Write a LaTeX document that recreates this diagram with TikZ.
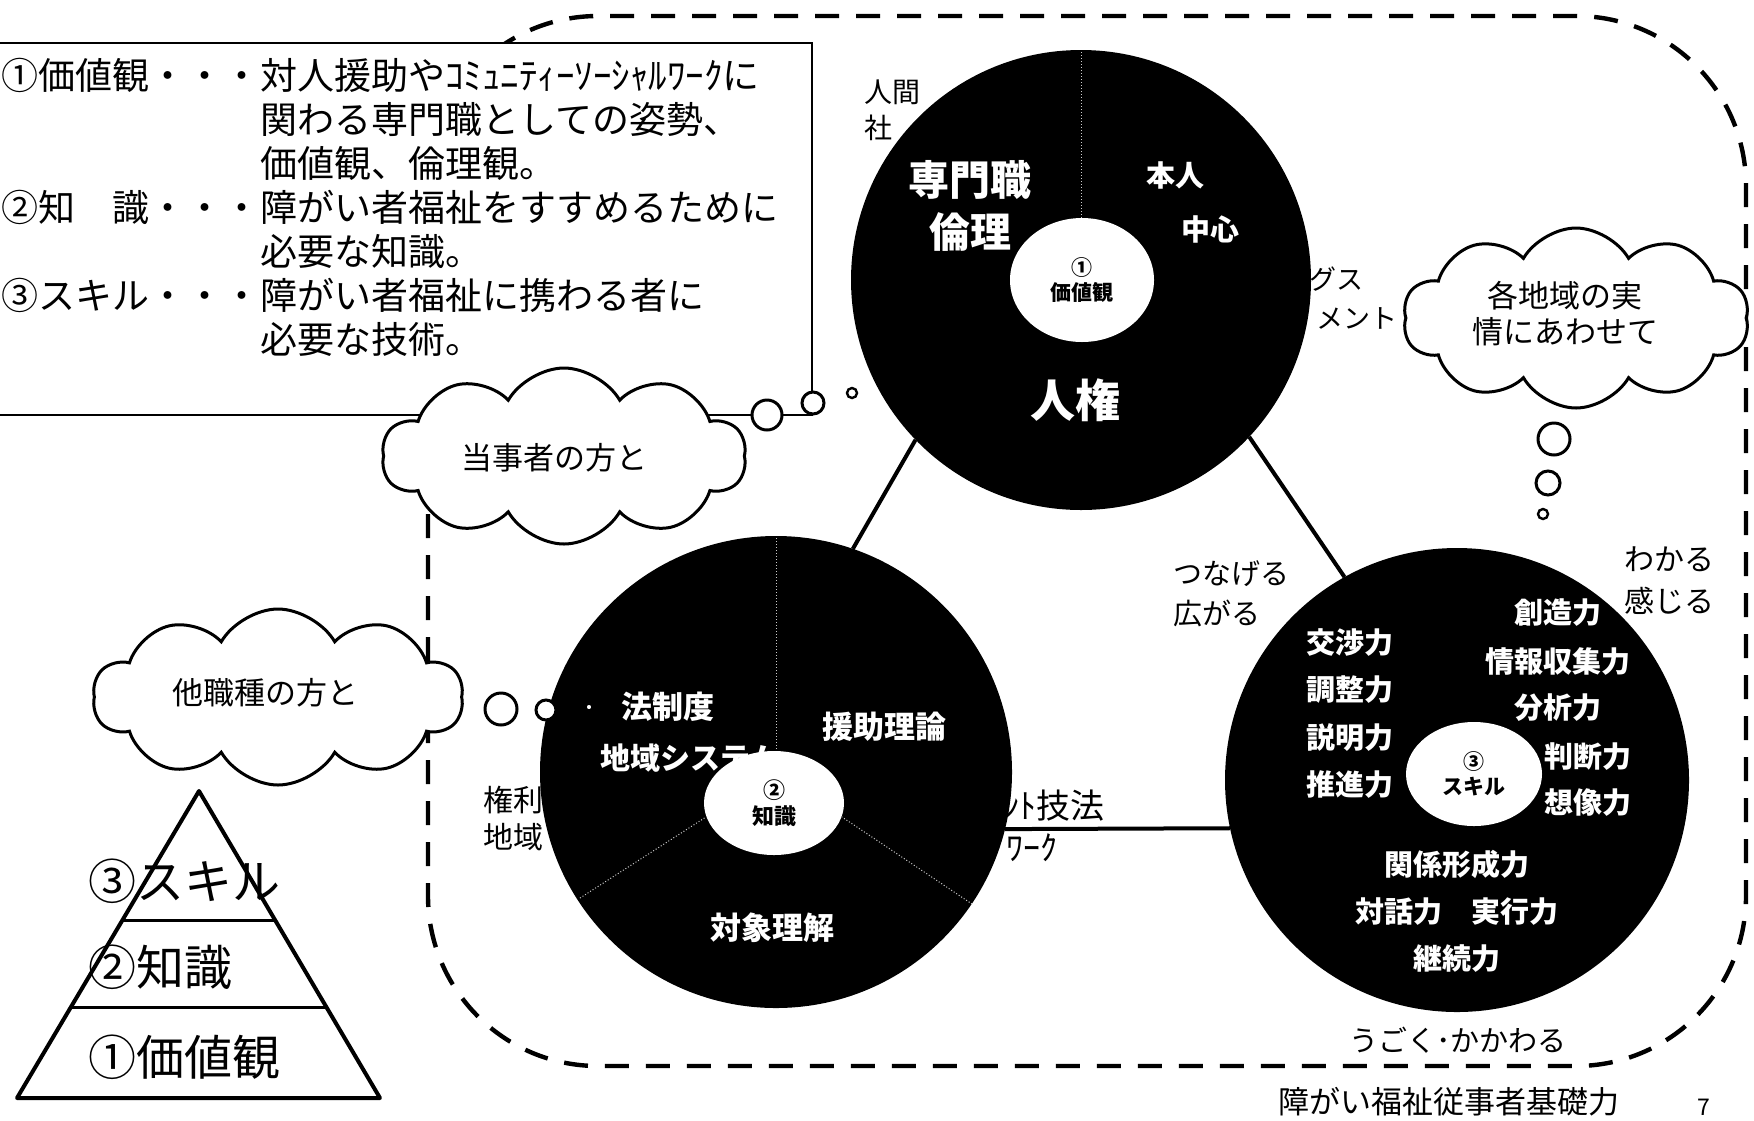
\documentclass[tikz,border=0pt]{standalone}
\usepackage{fontspec}
\setmainfont{Noto Sans CJK JP}
\usetikzlibrary{shapes.geometric,shapes.symbols,calc}

\tikzset{every picture/.style={line width=0.75pt}}
\tikzset{
  frame/.style={line width=2.2pt,dash pattern=on 12pt off 8.5pt,rounded corners=85pt},
  disc/.style={circle,fill=black,draw=none,inner sep=0pt,outer sep=0pt},
  hole/.style={ellipse,fill=white,draw=none,inner sep=0pt,outer sep=0pt,align=center,font=\fontsize{10.5}{12.5}\selectfont\bfseries},
  wtxt/.style={text=white,inner sep=0.75pt,font=\fontsize{14.5}{17}\selectfont\bfseries},
  wmid/.style={text=white,inner sep=0.75pt,font=\fontsize{15.5}{18}\selectfont\bfseries},
  wbig/.style={text=white,inner sep=0.75pt,font=\fontsize{20.5}{24}\selectfont\bfseries},
  desc/.style={anchor=north west,inner sep=0.75pt,align=left,font=\fontsize{18.5}{22}\selectfont},
  blk/.style={inner sep=0.75pt,font=\fontsize{15}{18}\selectfont},
  ptxt/.style={anchor=west,inner sep=0.75pt,font=\fontsize{14}{18}\selectfont},
  htxt/.style={anchor=west,inner sep=0.75pt,font=\fontsize{17}{19}\selectfont},
  lvl/.style={anchor=west,inner sep=0.75pt,font=\fontsize{24}{28}\selectfont},
  think/.style={cloud,cloud puffs=10,cloud puff arc=120,aspect=2,cloud ignores aspect,draw,fill=white,line width=1.5pt,inner sep=0pt},
  bub/.style={circle,draw,fill=white,line width=1.5pt,inner sep=0pt},
  tie/.style={line width=2pt},
  sector/.style={gray!40,line width=0.5pt,densely dotted},
}

\begin{document}
\begin{tikzpicture}[x=0.5pt,y=0.5pt,yscale=-1,xscale=1]
\path[use as bounding box,fill=white] (0,0) rectangle (1754,1120);

%Rounded Rect [dashed frame]
\draw[frame] (428,16) rectangle (1746,1066);

%Shape: Rectangle [explanation box]
\draw[fill=white,line width=1pt] (-4,43) rectangle (812,415);
% Text Node
\draw (-1,56) node [desc] (expl) {①価値観・・・対人援助やｺﾐｭﾆﾃｨｰｿｰｼｬﾙﾜｰｸに\\
\hspace*{7em}関わる専門職としての姿勢、\\
\hspace*{7em}価値観、倫理観。\\
②知　識・・・障がい者福祉をすすめるために\\
\hspace*{7em}必要な知識。\\
③スキル・・・障がい者福祉に携わる者に\\
\hspace*{7em}必要な技術。};

% Text Node (partly under the discs)
\draw (862,92) node [ptxt] (ningen) {人間};
\draw (862,128) node [ptxt] (sha) {社};
\draw (1307,279) node [ptxt,font=\fontsize{13.5}{16}\selectfont] (gusu) {グス};
\draw (1314,318) node [ptxt,font=\fontsize{13.5}{16}\selectfont] (mento) {メント};
\draw (481,800) node [ptxt,font=\fontsize{15}{18}\selectfont] (kenri) {権利};
\draw (481,837) node [ptxt,font=\fontsize{15}{18}\selectfont] (chiikiL) {地域};
\draw (1000,806) node [htxt] (gihou) {ﾝﾄ技法};
\draw (1004,848) node [htxt] (waku) {ﾜｰｸ};

%Shape: Circle [discs]
\node[disc,minimum size=230pt] (c1) at (1081,280) {};
\node[disc,minimum size=236pt] (c2) at (776,772) {};
\node[disc,minimum size=232pt] (c3) at (1457,780) {};

%Straight Lines [faint sectors]
\draw[sector] (1081,52) -- (1081,218);
\draw[sector] (776,538) -- (776,752);
\draw[sector] (580,898) -- (706,817);
\draw[sector] (972,904) -- (842,817);

% Text Node (value disc)
\draw (970,180) node [wbig] (senmon) {専門職};
\draw (970,232) node [wbig] (rinri) {倫理};
\draw (1175,175) node [wtxt] (honnin) {本人};
\draw (1210,229) node [wtxt] (chushin) {中心};
\draw (1075,400) node [wbig,font=\fontsize{22.5}{26}\selectfont\bfseries] (jinken) {人権};

% Text Node (knowledge disc)
\draw (668,707) node [wmid] (hosei) {法制度};
\draw (598,758) node [wmid,font=\fontsize{15}{18}\selectfont\bfseries,anchor=west] (chiiki) {地域システム};
\draw (884,727) node [wmid] (enjo) {援助理論};
\draw (772,928) node [wmid] (taisho) {対象理解};

% Text Node (skill disc)
\draw (1350,643) node [wtxt] (kosho) {交渉力};
\draw (1350,690) node [wtxt] (chosei) {調整力};
\draw (1350,738) node [wtxt] (setsumei) {説明力};
\draw (1350,785) node [wtxt] (suishin) {推進力};
\draw (1558,613) node [wtxt] (sozo) {創造力};
\draw (1558,662) node [wtxt] (joho) {情報収集力};
\draw (1558,708) node [wtxt] (bunseki) {分析力};
\draw (1588,757) node [wtxt] (handan) {判断力};
\draw (1588,803) node [wtxt] (sozo2) {想像力};
\draw (1457,864) node [wtxt] (kankei) {関係形成力};
\draw (1457,912) node [wtxt] (taiwa) {対話力　実行力};
\draw (1457,959) node [wtxt] (keizoku) {継続力};

%Shape: Ellipse [centres]
\node[hole,minimum width=72pt,minimum height=62pt] (h1) at (1082,280) {①\\価値観};
\node[hole,minimum width=70pt,minimum height=52pt,font=\fontsize{11}{13}\selectfont\bfseries] (h2) at (774,803) {②\\知識};
\node[hole,minimum width=68pt,minimum height=52pt] (h3) at (1474,774) {③\\スキル};

%Straight Lines [triangle]
\draw[tie] (c1.224.5) -- (c2.71.3);
\draw[tie] (c1.-43) -- (c3.119.4);
\draw[tie] (c2.-14) -- (c3.192);

%Shape: Cloud
\node[think,minimum width=182pt,minimum height=88pt] (cloudA) at (564,456) {};
\node[think,minimum width=173pt,minimum height=90pt] (cloudB) at (1576,318) {};
\node[think,minimum width=185pt,minimum height=88pt] (cloudC) at (278,697) {};
% Text Node
\draw (554,458) node [blk,font=\fontsize{15.5}{18}\selectfont] (tojisha) {当事者の方と};
\draw (1565,314) node [blk,font=\fontsize{15.5}{18}\selectfont,align=center] (jitsujo) {各地域の実\\情にあわせて};
\draw (265,693) node [blk,font=\fontsize{15.5}{18}\selectfont] (tashoku) {他職種の方と};

%Shape: Circle [thought bubbles]
\node[bub,minimum size=15pt] (bA1) at (767,415) {};
\node[bub,minimum size=11pt] (bA2) at (813,403) {};
\node[bub,minimum size=5pt,line width=1.2pt] (bA3) at (852,393) {};
\node[bub,minimum size=16pt] (bB1) at (1554,439) {};
\node[bub,minimum size=12pt] (bB2) at (1548,483) {};
\node[bub,minimum size=5pt,line width=1.2pt] (bB3) at (1543,514) {};
\node[bub,minimum size=16pt] (bC1) at (501,709) {};
\node[bub,minimum size=10pt] (bC2) at (546,710) {};
\node[bub,minimum size=3.5pt,line width=1.2pt] (bC3) at (589,707) {};

% Text Node (around the discs)
\draw (1171,574) node [blk,anchor=west,font=\fontsize{14.5}{17}\selectfont] (tsunageru) {つなげる};
\draw (1171,613) node [blk,anchor=west,font=\fontsize{14.5}{17}\selectfont] (hirogaru) {広がる};
\draw (1622,559) node [blk,anchor=west] (wakaru) {わかる};
\draw (1622,601) node [blk,anchor=west] (kanjiru) {感じる};
\draw (1458,1040) node [blk,font=\fontsize{14.5}{17}\selectfont] (ugoku) {うごく･かかわる};
\draw (1449,1102) node [blk,font=\fontsize{15.5}{18}\selectfont] (kiso) {障がい福祉従事者基礎力};
\draw (1704,1107) node [blk,font=\fontsize{11.5}{13}\selectfont] (pageno) {7};

%Shape: Triangle [pyramid]
\coordinate (pA) at (199,791);
\coordinate (pL) at (17,1098);
\coordinate (pR) at (380,1098);
\draw[line width=2pt,line join=round] (pA) -- (pL) -- (pR) -- cycle;
\draw[line width=1.6pt] ($(pA)!0.423!(pL)$) -- ($(pA)!0.423!(pR)$);
\draw[line width=1.6pt] ($(pA)!0.704!(pL)$) -- ($(pA)!0.704!(pR)$);
% Text Node
\draw (86,881) node [lvl] (lv3) {③スキル};
\draw (86,967) node [lvl] (lv2) {②知識};
\draw (86,1057) node [lvl] (lv1) {①価値観};

\end{tikzpicture}
\end{document}
